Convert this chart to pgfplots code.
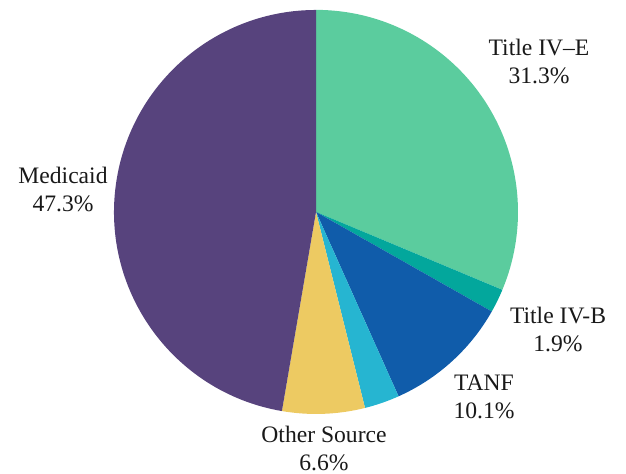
\documentclass[border=0pt]{standalone}
\usepackage{fontspec}
\setmainfont{Liberation Serif}
\usepackage{pgfplots}
\usepackage{pgfplotstable}
\pgfplotsset{compat=1.18}
\definecolor{slice0}{HTML}{5BCC9E}
\definecolor{slice1}{HTML}{03A79C}
\definecolor{slice2}{HTML}{105CAA}
\definecolor{slice3}{HTML}{26B5D1}
\definecolor{slice4}{HTML}{EDCA62}
\definecolor{slice5}{HTML}{57437D}
\pgfplotstableread{
share
31.3
1.9
10.1
2.8
6.6
47.3
}\piedata
\begin{document}
\begin{tikzpicture}
\xdef\acc{90}
\foreach \i in {0,...,5}{%
  \pgfplotstablegetelem{\i}{share}\of\piedata
  \pgfmathsetmacro{\endang}{\acc-3.6*\pgfplotsretval}%
  \expandafter\xdef\csname pieS\i\endcsname{\acc}%
  \expandafter\xdef\csname pieE\i\endcsname{\endang}%
  \xdef\acc{\endang}%
}
\begin{axis}[
  width=313pt, height=237pt, scale only axis,
  xmin=0, xmax=626, ymin=0, ymax=474,
  hide axis, clip=false,
]
\pgfplotsinvokeforeach{0,...,5}{%
  \fill[slice#1] (axis cs:316,262) -- (axis cs:{316+202*cos(\csname pieS#1\endcsname)},{262+202*sin(\csname pieS#1\endcsname)})
    arc[start angle=\csname pieS#1\endcsname, end angle=\csname pieE#1\endcsname, radius=101pt] -- cycle;
}
\tikzset{lbl/.style={align=center, inner sep=0pt, text=black!90, font=\fontsize{11.8}{14}\selectfont}}
\node[lbl] at (axis cs:539,412) {Title IV--E\\31.3\%};
\node[lbl] at (axis cs:558,144) {Title IV-B\\1.9\%};
\node[lbl] at (axis cs:484,77) {TANF\\10.1\%};
\node[lbl] at (axis cs:324,26) {Other Source\\6.6\%};
\node[lbl] at (axis cs:63,284) {Medicaid\\47.3\%};
\end{axis}
\pgfresetboundingbox
\path (0,0) rectangle (313pt,237pt);
\end{tikzpicture}
\end{document}
